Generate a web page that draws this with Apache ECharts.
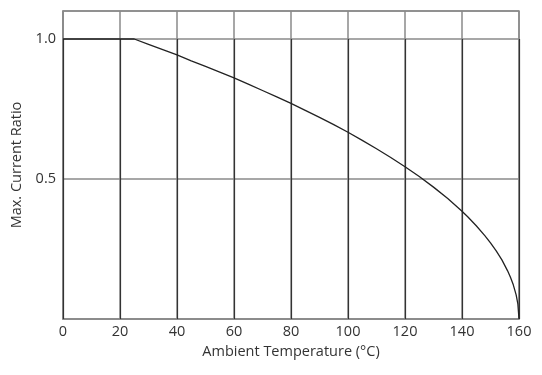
<!DOCTYPE html>
<html><head><meta charset="utf-8">
<script src="https://cdn.jsdelivr.net/npm/echarts@6/dist/echarts.min.js"></script>
<style>html,body{margin:0;padding:0;background:#fff}#c{width:542px;height:375px}</style>
</head><body><div id="c"></div>
<script>
var temps  = [0, 25, 30, 35, 40, 45, 50, 55, 60, 65, 70, 75, 80, 85, 90, 95, 100, 105, 110, 115, 120, 125, 130, 135, 140, 142, 145, 148, 150, 152, 154, 156, 157, 158, 159, 159.6, 160];
var ratios = [1.0, 1.0, 0.981, 0.962, 0.943, 0.922, 0.902, 0.882, 0.861, 0.839, 0.816, 0.793, 0.77, 0.745, 0.72, 0.694, 0.667, 0.638, 0.608, 0.577, 0.544, 0.509, 0.471, 0.43, 0.385, 0.365, 0.333, 0.298, 0.272, 0.243, 0.211, 0.172, 0.149, 0.122, 0.086, 0.054, 0];
var xTicks = [0, 20, 40, 60, 80, 100, 120, 140, 160];
var yTicks = [0.5, 1.0];
var xName = 'Ambient Temperature (°C)';
var yName = 'Max. Current Ratio';

var chart = echarts.init(document.getElementById('c'));
var font = 'Open Sans';
var fs = 14.5;
chart.setOption({
  animation: false,
  grid: {left: 63, right: 23, top: 11, bottom: 56, show: true, borderColor: '#8a8a8a', borderWidth: 1.5},
  xAxis: {
    type: 'value', min: 0, max: 160, interval: 20,
    name: xName, nameLocation: 'middle', nameGap: 23,
    nameTextStyle: {fontFamily: font, fontSize: fs, color: '#333'},
    axisLine: {show: true, lineStyle: {color: '#8a8a8a', width: 1.5}},
    axisTick: {show: false},
    axisLabel: {fontFamily: font, fontSize: fs, color: '#333', margin: 5},
    splitLine: {show: true, lineStyle: {color: '#8a8a8a', width: 1.5}}
  },
  yAxis: {
    type: 'value', min: 0, max: 1.1, interval: 0.5,
    name: yName, nameLocation: 'middle', nameGap: 38,
    nameTextStyle: {fontFamily: font, fontSize: fs, color: '#333'},
    axisLine: {show: true, lineStyle: {color: '#8a8a8a', width: 1.5}},
    axisTick: {show: false},
    axisLabel: {fontFamily: font, fontSize: fs, color: '#333', margin: 7,
      formatter: function (v) { return yTicks.indexOf(v) >= 0 ? v.toFixed(1) : ''; }},
    splitLine: {show: true, lineStyle: {color: '#8a8a8a', width: 1.5}}
  },
  series: [{
    type: 'line', symbol: 'none', z: 5,
    data: temps.map(function (t, i) { return [t, ratios[i]]; }),
    smooth: false,
    lineStyle: {color: '#222', width: 1.3},
    markLine: {
      silent: true, symbol: 'none', label: {show: false},
      lineStyle: {color: '#333', width: 1.2, type: 'solid'},
      data: xTicks.map(function (t) { return [{coord: [t, 0]}, {coord: [t, 1.0]}]; })
    }
  }]
});
</script></body></html>
